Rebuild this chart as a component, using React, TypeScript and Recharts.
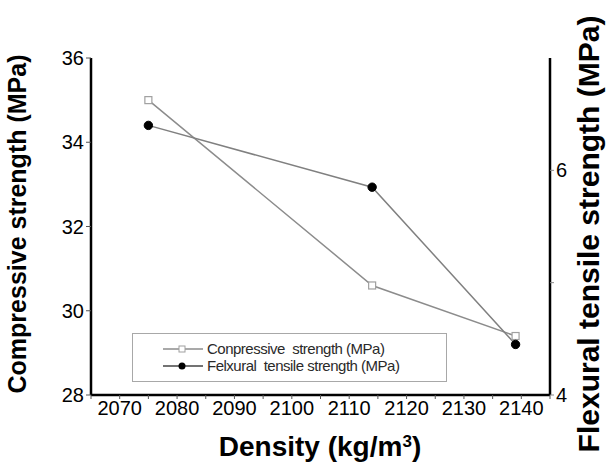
import React from 'react';
import { LineChart, Line, XAxis, YAxis } from 'recharts';

const density = [2075, 2114, 2139];
const compressive = [35.0, 30.6, 29.4];
const flexural = [6.4, 5.85, 4.45];

const xTicks = [2065, 2070, 2075, 2080, 2085, 2090, 2095, 2100, 2105, 2110, 2115, 2120, 2125, 2130, 2135, 2140, 2145];
const leftTicks = [28, 30, 32, 34, 36];
const leftMinorTicks = [29, 31, 33, 35];
const rightTicks = [4, 5, 6];

const data = density.map((d, i) => ({ density: d, compressive: compressive[i], flexural: flexural[i] }));

const FONT = '"Liberation Sans", Arial, Helvetica, sans-serif';
const LINE = '#8c8c8c';

const SquareDot = (props: any) => {
  const { cx, cy } = props;
  if (cx == null || cy == null) return null;
  return <rect x={cx - 3.5} y={cy - 3.5} width={7} height={7} fill="#fff" stroke="#a0a0a0" strokeWidth={1.2} />;
};

const CircleDot = (props: any) => {
  const { cx, cy } = props;
  if (cx == null || cy == null) return null;
  return <circle cx={cx} cy={cy} r={4.2} fill="#000" stroke="#000" />;
};

const LegendBox = () => (
  <div
    style={{
      position: 'absolute',
      left: 132,
      top: 333,
      width: 315,
      height: 49,
      boxSizing: 'border-box',
      border: '1.5px solid #a8a8a8',
      background: '#fff',
      fontFamily: FONT,
      fontSize: 15,
      color: '#2a2a2a',
      paddingTop: 6,
      paddingLeft: 30,
    }}
  >
    <div style={{ display: 'flex', alignItems: 'center', height: 17 }}>
      <svg width={42} height={12} style={{ marginRight: 2 }}>
        <line x1={0} y1={6} x2={40} y2={6} stroke={LINE} strokeWidth={1.3} />
        <rect x={16} y={3} width={6} height={6} fill="#fff" stroke="#a0a0a0" />
      </svg>
      <span style={{ letterSpacing: -0.5 }}>Conpressive&nbsp; strength (MPa)</span>
    </div>
    <div style={{ display: 'flex', alignItems: 'center', height: 17 }}>
      <svg width={42} height={12} style={{ marginRight: 2 }}>
        <line x1={0} y1={6} x2={40} y2={6} stroke="#444" strokeWidth={1.3} />
        <circle cx={19} cy={6} r={3.5} fill="#000" />
      </svg>
      <span style={{ letterSpacing: -0.5 }}>Felxural&nbsp; tensile strength (MPa)</span>
    </div>
  </div>
);

export default function App() {
  return (
    <div style={{ position: 'absolute', left: 0, top: 0, width: 608, height: 467, background: '#fff' }}>
      <LineChart
        width={608}
        height={467}
        data={data}
        margin={{ top: 58, right: 28, bottom: 42, left: 41 }}
      >
        <XAxis
          xAxisId="bottom"
          dataKey="density"
          type="number"
          domain={[2065, 2145]}
          ticks={xTicks}
          interval={0}
          tickFormatter={(v: number) => (v % 10 === 0 ? String(v) : '')}
          axisLine={{ stroke: '#000', strokeWidth: 2.5 }}
          tickLine={{ stroke: '#555' }}
          tickSize={4}
          height={30}
          tick={{ fill: '#000', fontSize: 20, fontFamily: FONT }}
          label={{
            content: () => (
              <text x={320} y={456} textAnchor="middle" fontFamily={FONT} fontWeight="bold" fontSize={28} fill="#000">
                Density (kg/m<tspan baselineShift="super" fontSize={17}>3</tspan>)
              </text>
            ),
          }}
        />
        <XAxis
          xAxisId="top"
          dataKey="density"
          type="number"
          orientation="top"
          domain={[2065, 2145]}
          ticks={xTicks}
          interval={0}
          mirror
          tickFormatter={() => ''}
          axisLine={{ stroke: '#000', strokeWidth: 2.5 }}
          tickLine={{ stroke: '#777' }}
          tickSize={3}
          height={0}
        />
        <YAxis
          yAxisId="left"
          type="number"
          domain={[28, 36]}
          ticks={leftTicks}
          interval={0}
          axisLine={{ stroke: '#000', strokeWidth: 2.5 }}
          tickLine={{ stroke: '#555' }}
          tickSize={5}
          width={50}
          tick={{ fill: '#000', fontSize: 20, fontFamily: FONT }}
          label={{
            content: () => (
              <text
                x={26}
                y={224}
                textAnchor="middle"
                fontFamily={FONT}
                fontWeight="bold"
                fontSize={25}
                fill="#000"
                transform="rotate(-90 26 224)"
              >
                Compressive strength (MPa)
              </text>
            ),
          }}
        />
        <YAxis
          yAxisId="leftMinor"
          type="number"
          domain={[28, 36]}
          ticks={leftMinorTicks}
          interval={0}
          mirror
          axisLine={false}
          tickLine={{ stroke: '#777' }}
          tickSize={3}
          tickFormatter={() => ''}
          width={0}
        />
        <YAxis
          yAxisId="right"
          orientation="right"
          type="number"
          domain={[4, 7]}
          ticks={rightTicks}
          interval={0}
          tickFormatter={(v: number) => (v === 5 ? '' : String(v))}
          axisLine={{ stroke: '#000', strokeWidth: 2.5 }}
          tickLine={{ stroke: '#888' }}
          tickSize={4}
          width={30}
          tick={{ fill: '#000', fontSize: 20, fontFamily: FONT }}
          label={{
            content: () => (
              <text
                x={599}
                y={234}
                textAnchor="middle"
                fontFamily={FONT}
                fontWeight="bold"
                fontSize={30}
                fill="#000"
                transform="rotate(-90 599 234)"
              >
                Flexural tensile strength (MPa)
              </text>
            ),
          }}
        />
        <Line
          xAxisId="bottom"
          yAxisId="left"
          dataKey="compressive"
          stroke={LINE}
          strokeWidth={1.5}
          dot={<SquareDot />}
          activeDot={false}
          isAnimationActive={false}
        />
        <Line
          xAxisId="bottom"
          yAxisId="right"
          dataKey="flexural"
          stroke="#808080"
          strokeWidth={1.5}
          dot={<CircleDot />}
          activeDot={false}
          isAnimationActive={false}
        />
      </LineChart>
      <LegendBox />
    </div>
  );
}
